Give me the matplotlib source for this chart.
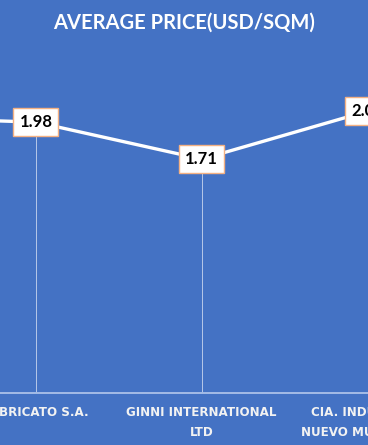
import matplotlib
matplotlib.use("Agg")
import matplotlib.pyplot as plt

# Data
categories = ["", "FABRICATO S.A.", "GINNI INTERNATIONAL\nLTD", "CIA. INDUSTRIAL\nNUEVO MUNDO S.A."]
values = [2.02, 1.98, 1.71, 2.06]
label_text = ["2.02", "1.98", "1.71", "2.06"]
title = "AVERAGE PRICE(USD/SQM)"

BG = "#4472C4"
W, H = 368, 445
fig = plt.figure(figsize=(W / 100, H / 100), dpi=100, facecolor=BG)
ax = fig.add_axes([0, 52 / H, 1, 313 / H], facecolor=BG)

x = list(range(len(categories)))
ax.plot(x, values, color="white", lw=2.4, solid_capstyle="round", zorder=3)
ax.vlines(x, 0, values, color="#C9D6EE", lw=0.6, zorder=2)

for xi, v, t in zip(x, values, label_text):
    ax.text(xi, v, t, ha="center", va="center", fontsize=12, fontweight="bold",
            family="Lato", color="black", zorder=5, clip_on=True,
            bbox=dict(boxstyle="square,pad=0.36", fc="white", ec="#F4B183", lw=1.0))

for s in ["top", "right", "left"]:
    ax.spines[s].set_visible(False)
ax.spines["bottom"].set_color("#A4BCE6")
ax.spines["bottom"].set_linewidth(1.4)
ax.set_yticks([])
ax.set_xticks(x)
ax.set_xticklabels(categories, fontsize=8.6, fontweight="bold", family="DejaVu Sans",
                   color="#F2F2F2", linespacing=1.8)
ax.tick_params(axis="x", length=0, pad=9)
ax.set_xlim(1 - 36 / 166, 3 + 0.5 / 166)
ax.set_ylim(0, 313 / 136.8)

fig.text(0.5, 1 - 23 / H, title, ha="center", va="center", fontsize=14.5,
         fontweight="bold", family="Lato", color="white")

fig.savefig("out.png", dpi=100, facecolor=BG)
